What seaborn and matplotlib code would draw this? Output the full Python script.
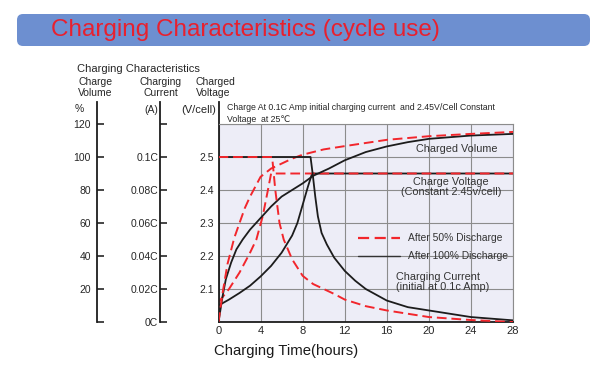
import matplotlib
matplotlib.use('Agg')
import matplotlib.pyplot as plt
import matplotlib.patches as mpatches
from matplotlib.lines import Line2D
import seaborn as sns

# --- values ---
hour_ticks = [0, 4, 8, 12, 16, 20, 24, 28]

volt_ticks = [2.0, 2.1, 2.2, 2.3, 2.4, 2.5, 2.6]
volt_labels = ['', '2.1', '2.2', '2.3', '2.4', '2.5', '']
vol_ticks = [0, 20, 40, 60, 80, 100, 120]
vol_labels = ['', '20', '40', '60', '80', '100', '120']
cur_ticks = [0, 0.02, 0.04, 0.06, 0.08, 0.10, 0.12]
cur_labels = ['0C', '0.02C', '0.04C', '0.06C', '0.08C', '0.1C', '']

# charged volume (%)
vol100_t = [0, 0.4, 0.7, 1.2, 1.7, 2.3, 3, 4, 5, 6, 7, 8, 9, 10.5, 12, 14, 16, 18, 20, 24, 28]
vol100 = [0, 16, 26, 36, 44, 50, 56, 63, 70, 76, 80, 84, 88.6, 93, 98, 103, 106.4, 109, 111, 113, 114]
vol50_t = [0, 0.4, 0.85, 1.5, 2, 2.5, 3, 3.5, 4, 5, 6, 7, 8, 10, 12, 16, 20, 24, 28]
vol50 = [0, 18, 35, 51, 60, 69, 76, 82, 88, 93, 96, 99, 101.4, 104.6, 106.6, 110.4, 112.6, 114, 115.2]

# charge voltage (V/cell)
volt100_t = [0, 1, 2, 3, 4, 5, 6, 7, 7.5, 8, 8.5, 8.9, 28]
volt100 = [2.05, 2.068, 2.088, 2.11, 2.138, 2.17, 2.21, 2.262, 2.30, 2.355, 2.41, 2.45, 2.45]
volt50_t = [0, 1, 2, 3, 3.6, 4.2, 4.7, 5.0, 28]
volt50 = [2.06, 2.10, 2.15, 2.21, 2.25, 2.32, 2.40, 2.45, 2.45]

# charging current (C)
cur100_t = [0, 8.75, 8.95, 9.2, 9.45, 9.8, 10.3, 11, 12, 13, 14, 16, 18, 20, 24, 28]
cur100 = [0.1, 0.1, 0.09, 0.076, 0.064, 0.054, 0.047, 0.039, 0.031, 0.025, 0.020, 0.013, 0.009, 0.007, 0.003, 0.001]
cur50_t = [0, 5.1, 5.4, 5.8, 6.2, 7, 8, 9, 10, 11, 12, 14, 16, 20, 24, 28]
cur50 = [0.1, 0.1, 0.08, 0.06, 0.05, 0.038, 0.028, 0.023, 0.020, 0.017, 0.0136, 0.0096, 0.007, 0.003, 0.0012, 0.0]

sns.set_theme(style="white")
plt.rcParams['font.family'] = ['Liberation Sans', 'DejaVu Sans']

RED = '#f2262c'
BLACK = '#1c1c1c'
TXT = '#262626'
DASH = (0, (5, 2.5))
W, H = 600, 373


def px(x, y):
    # pixel position in the 600x373 picture -> figure fraction
    return x / W, 1 - y / H


fig = plt.figure(figsize=(6, 3.73), dpi=100)

# title banner
fig.patches.append(mpatches.FancyBboxPatch(
    (0.17, 3.27), 5.73, 0.32, boxstyle="round,pad=0,rounding_size=0.06",
    transform=fig.dpi_scale_trans, facecolor='#6d8fd0', edgecolor='none'))
fig.text(*px(51, 30), 'Charging Characteristics (cycle use)', color='#e8202e',
         fontsize=17.5, ha='left', va='center')

ax = fig.add_axes([218.5 / W, 1 - 322 / H, 294.5 / W, 198 / H])
ax.set_facecolor('#ededf7')
ax_vol = ax.twinx()
ax_cur = ax.twinx()

# curves: black = after 100% discharge, red dashed = after 50% discharge
sns.lineplot(x=volt100_t, y=volt100, ax=ax, color=BLACK, lw=1.3, estimator=None, sort=False)
sns.lineplot(x=volt50_t, y=volt50, ax=ax, color=RED, lw=1.4, linestyle=DASH, estimator=None, sort=False)
sns.lineplot(x=vol100_t, y=vol100, ax=ax_vol, color=BLACK, lw=1.3, estimator=None, sort=False)
sns.lineplot(x=vol50_t, y=vol50, ax=ax_vol, color=RED, lw=1.4, linestyle=DASH, estimator=None, sort=False)
sns.lineplot(x=cur100_t, y=cur100, ax=ax_cur, color=BLACK, lw=1.3, estimator=None, sort=False)
sns.lineplot(x=cur50_t, y=cur50, ax=ax_cur, color=RED, lw=1.4, linestyle=DASH, estimator=None, sort=False)

# main (voltage) axis
ax.set_xlim(0, 28)
ax.set_ylim(2.0, 2.6)
ax.set_xticks(hour_ticks)
ax.set_xticklabels([str(h) for h in hour_ticks])
ax.set_yticks(volt_ticks)
ax.set_yticklabels(volt_labels)
ax.tick_params(axis='both', length=0, labelsize=7.5, colors=TXT)
ax.tick_params(axis='x', pad=3, labelsize=8)
ax.tick_params(axis='y', pad=3)
ax.grid(True, color='#8c8c8c', lw=0.8)
ax.set_xlabel('')
ax.set_ylabel('')
for s in ['top', 'right']:
    ax.spines[s].set_color('#8c8c8c')
    ax.spines[s].set_linewidth(0.8)
for s in ['left', 'bottom']:
    ax.spines[s].set_color(BLACK)
    ax.spines[s].set_linewidth(1.3)
ax.spines['left'].set_bounds(2.0, 2.0 + 0.6 * 220 / 198)

# separate scales for volume and current on the left
for a, off, lim, ticks, labels, pad in [
        (ax_vol, 87.8, (0, 120), vol_ticks, vol_labels, 4),
        (ax_cur, 41.8, (0, 0.12), cur_ticks, cur_labels, 1.5)]:
    a.set_ylim(*lim)
    a.yaxis.tick_left()
    for s in ['top', 'right', 'bottom']:
        a.spines[s].set_visible(False)
    sp = a.spines['left']
    sp.set_visible(True)
    sp.set_position(('outward', off))
    sp.set_bounds(lim[0], lim[0] + (lim[1] - lim[0]) * 220 / 198)
    sp.set_color(BLACK)
    sp.set_linewidth(1.3)
    a.set_yticks(ticks)
    a.set_yticklabels(labels)
    a.tick_params(axis='y', direction='in', length=5, width=1.2, pad=pad,
                  labelsize=7.5, colors=TXT)
    a.grid(False)
    a.set_ylabel('')

# curve labels
ax.text(22.64, 2.524, 'Charged Volume', ha='center', va='center', fontsize=7.8, color='#333')
ax.text(22.1, 2.425, 'Charge Voltage', ha='center', va='center', fontsize=7.8, color='#333')
ax.text(22.17, 2.395, '(Constant 2.45v/cell)', ha='center', va='center', fontsize=7.8, color='#333')
ax.text(20.85, 2.135, 'Charging Current', ha='center', va='center', fontsize=7.8, color='#333')
ax.text(21.34, 2.105, '(initial at 0.1c Amp)', ha='center', va='center', fontsize=7.8, color='#333')

handles = [Line2D([], [], color=RED, lw=1.6, linestyle=DASH),
           Line2D([], [], color='#333333', lw=1.0)]
leg = ax_cur.legend(handles, ['After 50% Discharge', 'After 100% Discharge'],
                    loc='center left', bbox_to_anchor=(0.4727, 0.377), frameon=False,
                    fontsize=7.4, handlelength=4.1, handletextpad=0.8,
                    labelspacing=0.8, borderpad=0, borderaxespad=0)
for t in leg.get_texts():
    t.set_color('#333')

# header texts
fig.text(*px(77, 69), 'Charging Characteristics', fontsize=8, color=TXT, va='center')
fig.text(*px(96, 82), 'Charge', fontsize=7.5, color=TXT, ha='center', va='center')
fig.text(*px(95, 93), 'Volume', fontsize=7.5, color=TXT, ha='center', va='center')
fig.text(*px(161, 82), 'Charging', fontsize=7.5, color=TXT, ha='center', va='center')
fig.text(*px(161, 93), 'Current', fontsize=7.5, color=TXT, ha='center', va='center')
fig.text(*px(196, 82), 'Charged', fontsize=7.5, color=TXT, ha='left', va='center')
fig.text(*px(196, 93), 'Voltage', fontsize=7.5, color=TXT, ha='left', va='center')
fig.text(*px(75, 109), '%', fontsize=7.5, color=TXT, ha='left', va='center')
fig.text(*px(158, 110), '(A)', fontsize=7.5, color=TXT, ha='right', va='center')
fig.text(*px(216, 110), '(V/cell)', fontsize=8, color=TXT, ha='right', va='center')
fig.text(*px(227, 108), 'Charge At 0.1C Amp initial charging current  and 2.45V/Cell Constant',
         fontsize=6.3, color=TXT, ha='left', va='center')
fig.text(*px(227, 119), 'Voltage  at 25\u2103', fontsize=6.3, color=TXT, ha='left', va='center')

fig.text(*px(214, 351), 'Charging Time(hours)', fontsize=10.7, color='#1a1a1a', ha='left', va='center')

fig.savefig('out.png', dpi=100)
